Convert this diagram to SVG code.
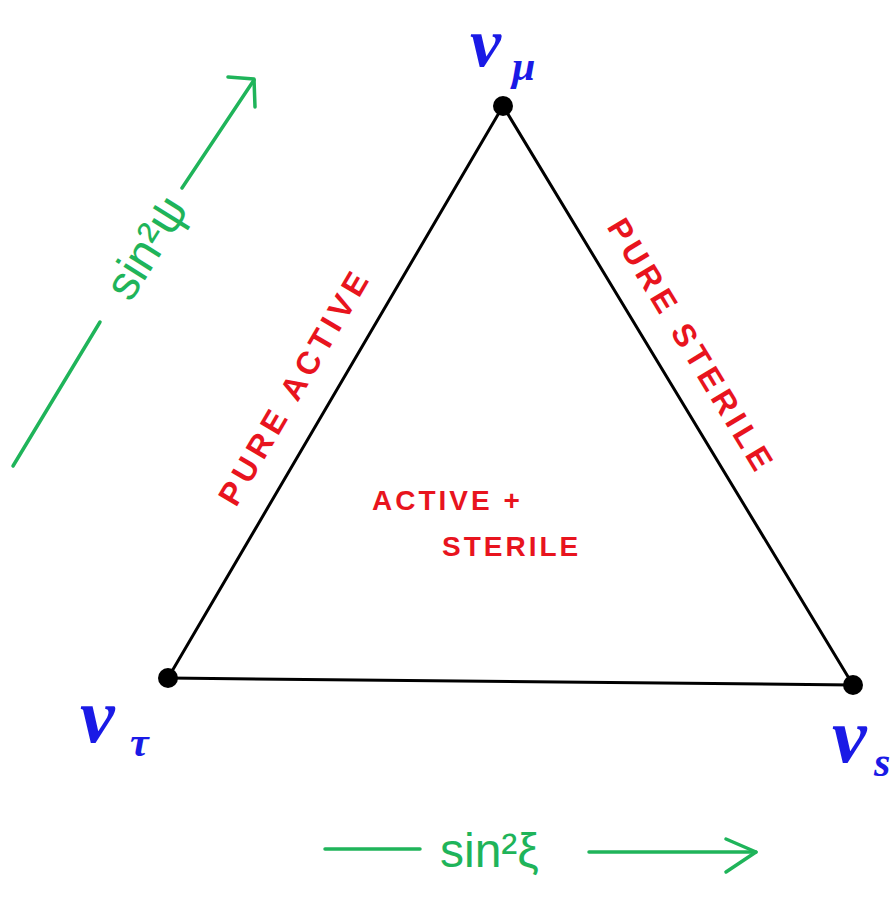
<svg xmlns="http://www.w3.org/2000/svg" width="894" height="897" viewBox="0 0 894 897">
<defs>
<style>
.edge{stroke:#000;stroke-width:3;fill:none;stroke-linecap:round}
.vtx{fill:#000}
.nu{font-family:"Liberation Serif",serif;font-style:italic;font-weight:bold;fill:#1a1ae6}
.red{font-family:"Liberation Sans",sans-serif;font-weight:bold;fill:#e8141e;letter-spacing:5px}
.grn{stroke:#1fb45a;stroke-width:3.5;fill:none;stroke-linecap:round;stroke-linejoin:round}
.gtxt{font-family:"Liberation Sans",sans-serif;fill:#1fb45a}
</style>
</defs>
<rect width="894" height="897" fill="#fff"/>
<g id="connectors">
<line class="edge" x1="168" y1="678" x2="503" y2="106"/>
<line class="edge" x1="503" y1="106" x2="853" y2="685"/>
<line class="edge" x1="168" y1="678" x2="853" y2="685"/>
</g>
<g id="nu_mu">
<circle class="vtx" cx="503" cy="106" r="10"/>
<text class="nu" x="470" y="66" font-size="70">ν</text>
<text class="nu" x="512" y="80" font-size="42">μ</text>
</g>
<g id="nu_tau">
<circle class="vtx" cx="168" cy="678" r="10"/>
<text class="nu" x="80" y="742" font-size="78">ν</text>
<text class="nu" x="130" y="756" font-size="42">τ</text>
</g>
<g id="nu_s">
<circle class="vtx" cx="853" cy="685" r="10"/>
<text class="nu" x="832" y="762" font-size="78">ν</text>
<text class="nu" x="874" y="776" font-size="42">s</text>
</g>
<g id="pure_active">
<text class="red" font-size="32" text-anchor="middle" transform="translate(304,392) rotate(-59.6)">PURE   ACTIVE</text>
</g>
<g id="pure_sterile">
<text class="red" font-size="32" text-anchor="middle" transform="translate(682,352) rotate(58.8)">PURE  STERILE</text>
</g>
<g id="active_sterile">
<text class="red" font-size="28" x="372" y="510" style="letter-spacing:3px">ACTIVE +</text>
<text class="red" font-size="28" x="442" y="556" style="letter-spacing:3px">STERILE</text>
</g>
<g id="axis_psi">
<line class="grn" x1="13" y1="466" x2="100" y2="322"/>
<line class="grn" x1="182" y1="188" x2="254" y2="80"/>
<polyline class="grn" points="228,77 254,79 255,107"/>
<text class="gtxt" font-size="48" text-anchor="middle" transform="translate(160,256) rotate(-58)">sin²ψ</text>
</g>
<g id="axis_xi">
<line class="grn" x1="325" y1="849" x2="420" y2="849"/>
<line class="grn" x1="589" y1="852" x2="756" y2="852"/>
<polyline class="grn" points="726,839 756,852 726,872"/>
<text class="gtxt" font-size="48" x="440" y="867">sin²ξ</text>
</g>
</svg>
